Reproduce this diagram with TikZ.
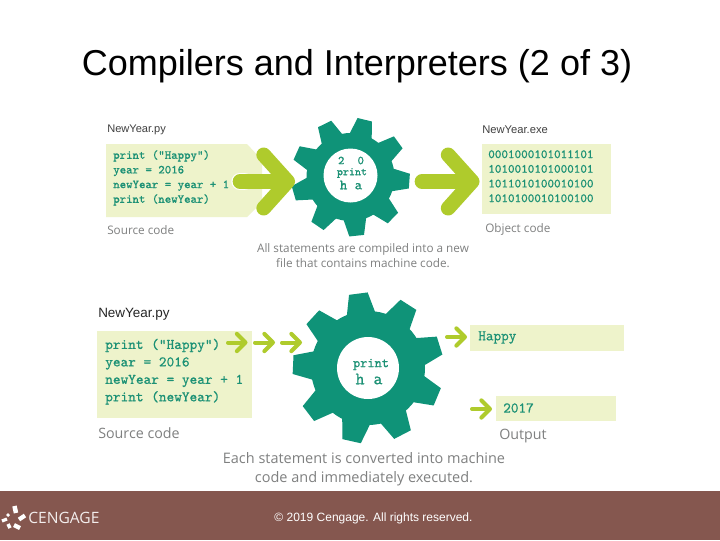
\documentclass[tikz,border=0pt]{standalone}
\usepackage{fontspec}
\setmainfont{Liberation Sans}
\newfontfamily\lblfont{Open Sans}
\newfontfamily\codefont[FakeBold=0.7]{Latin Modern Mono}
\usetikzlibrary{arrows.meta}
\definecolor{gearc}{HTML}{0F9378}
\definecolor{panelc}{HTML}{EEF3CB}
\definecolor{arrowc}{HTML}{AFCB2C}
\definecolor{footc}{HTML}{85574F}
\definecolor{lblc}{HTML}{7F8080}
\definecolor{codec}{HTML}{1C9175}
\newcommand{\gearshape}[5]{% cx,cy,outer,root,offset
  \fill[gearc] (#1,#2) circle[radius=#4];
  \foreach \k in {0,...,8}{
    \pgfmathsetmacro{\a}{#5+40*\k}
    \pgfmathsetmacro{\w}{0.175*#3}
    \pgfmathsetmacro{\v}{0.125*#3}
    \fill[gearc,shift={(#1,#2)},rotate=-\a]
      (#4-4,-\w-1.5) -- (#3,-\v) -- (#3,\v) -- (#4-4,\w+1.5) -- cycle;
  }
}
\tikzset{
  x=0.75pt,y=-0.75pt,
  panel/.style={fill=panelc,inner sep=0pt,outer sep=0pt,anchor=north west},
  codetop/.style={font=\codefont\bfseries\fontsize{9.2}{11}\selectfont,text=codec,inner sep=0pt,anchor=north west,align=left},
  codebig/.style={font=\codefont\bfseries\fontsize{10.95}{13.1}\selectfont,text=codec,inner sep=0pt,anchor=north west,align=left},
  lbl/.style={font=\lblfont\fontsize{8.8}{11.2}\selectfont,text=lblc,inner sep=0pt,align=center},
  lblbig/.style={font=\lblfont\fontsize{10.7}{14}\selectfont,text=lblc,inner sep=0pt,align=center},
  fatarrow/.style={draw=arrowc,line width=11pt,line cap=round,
    -{Straight Barb[length=18pt,width=40pt,round,line width=11pt]}},
  thinarrow/.style={draw=arrowc,line width=3pt,line cap=round,
    -{Straight Barb[length=6.5pt,width=13pt,round,line width=3pt]}},
  halo/.style={draw=white,line width=13pt,line cap=round},
  hole/.style={circle,fill=white,inner sep=0pt,outer sep=0pt},
}
\begin{document}
\begin{tikzpicture}
\useasboundingbox (0,0) rectangle (720,540);
\fill[white] (0,0) rectangle (720,540);
% title
\node[inner sep=0pt,font=\fontsize{27}{30}\selectfont] (title) at (357,66) {Compilers and Interpreters (2 of 3)};
% top row
\node[anchor=west,inner sep=0pt,text=black!75,font=\fontsize{8.3}{10}\selectfont] (name1) at (107,130) {NewYear.py};
\fill[panelc] (106,144) -- (247,144) -- (262,160) -- (262,202) -- (247,217) -- (106,217) -- cycle;
\coordinate (srcstart) at (240,181.5);
\node[codetop] (code1) at (113,150) {print ("Happy")\\year = 2016\\newYear = year + 1\\print (newYear)};
\node[anchor=west,lbl] (src1) at (107,230) {Source code};
\gearshape{350.5}{177}{59}{44}{84}
\node[hole,minimum size=40.5pt] (gear1) at (350.5,175.5) {};
\node[inner sep=0pt,text=codec,font=\codefont\bfseries\fontsize{9}{8}\selectfont] (g1a) at (351,160.5) {2\hspace{1.1em}0};
\node[inner sep=0pt,text=codec,font=\codefont\bfseries\fontsize{8.6}{6}\selectfont] (g1b) at (352,173) {print};
\node[inner sep=0pt,text=codec,font=\codefont\bfseries\fontsize{10.6}{8}\selectfont] (g1c) at (351,185) {h a};
\coordinate (gear1in) at (295,181.5);
\draw[halo] (srcstart) -- ++(4,0);
\draw[fatarrow] (srcstart) -- (gear1in);
\coordinate (gear1out) at (422,181.5);
\node[panel,minimum width=97pt,minimum height=52.5pt] (obj1) at (482,144) {};
\coordinate (obj1in) at (479.5,181.5);
\draw[fatarrow] (gear1out) -- (obj1in);
\node[anchor=west,inner sep=0pt,text=black!75,font=\fontsize{8.4}{10}\selectfont] (name2) at (482,130) {NewYear.exe};
\node[codetop,font=\codefont\bfseries\fontsize{9.4}{11}\selectfont] (code2) at (488,150) {0001000101011101\\1010010101000101\\1011010100010100\\1010100010100100};
\node[anchor=west,lbl] (objl) at (485,229) {Object code};
\node[lbl] (cap1) at (363,255.5) {All statements are compiled into a new\\file that contains machine code.};
% bottom row
\node[anchor=west,inner sep=0pt,text=black!85,font=\fontsize{10.1}{12}\selectfont] (name3) at (98,314) {NewYear.py};
\node[panel,minimum width=116.5pt,minimum height=65.5pt] (src2) at (97,331) {};
\node[codebig] (code3) at (105,338.5) {print ("Happy")\\year = 2016\\newYear = year + 1\\print (newYear)};
\node[anchor=west,lblbig] (srcl2) at (98,433) {Source code};
\coordinate (a1s) at (228,342.5); \coordinate (a1e) at (247.5,342.5);
\coordinate (a2s) at (255,342.5); \coordinate (a2e) at (275,342.5);
\coordinate (a3s) at (282,342.5); \coordinate (a3e) at (302,342.5);
\draw[thinarrow] (a1s) -- (a1e);
\draw[thinarrow] (a2s) -- (a2e);
\draw[thinarrow] (a3s) -- (a3e);
\gearshape{368}{368}{75}{57}{22.6}
\node[hole,minimum size=46.5pt] (gear2) at (368,368) {};
\node[inner sep=0pt,text=codec,font=\codefont\bfseries\fontsize{10.3}{8}\selectfont] (g2a) at (371,364.5) {print};
\node[inner sep=0pt,text=codec,font=\codefont\bfseries\fontsize{13}{8}\selectfont] (g2b) at (369,379) {h a};
\node[panel,minimum width=115.5pt,minimum height=19.5pt] (out1) at (470,324.5) {};
\node[panel,minimum width=90pt,minimum height=19pt] (out2) at (496,396) {};
\node[anchor=west,inner sep=0pt,text=codec,font=\codefont\bfseries\fontsize{11.1}{10}\selectfont] (happy) at (478,337.5) {Happy};
\node[anchor=west,inner sep=0pt,text=codec,font=\codefont\bfseries\fontsize{11.1}{10}\selectfont] (y2017) at (503,408) {2017};
\coordinate (a4s) at (447,337); \coordinate (a4e) at (467,337);
\coordinate (a5s) at (472,409); \coordinate (a5e) at (492,409);
\draw[thinarrow] (a4s) -- (a4e);
\draw[thinarrow] (a5s) -- (a5e);
\node[anchor=west,lblbig] (outl) at (499,436) {Output};
\node[lblbig,font=\lblfont\fontsize{10.85}{14}\selectfont] (cap2) at (364,469.5) {Each statement is converted into machine\\code and immediately executed.};
% footer
\fill[footc] (0,491) rectangle (720,540);
\node[inner sep=0pt,text=white,font=\fontsize{9}{10}\selectfont] (copy) at (373.5,518) {© 2019 Cengage. All rights reserved.};
\node[anchor=west,inner sep=0pt,text=white!90!footc,font=\lblfont\fontsize{11.7}{12}\selectfont] (ceng) at (28,518) {CENGAGE};
\begin{scope}[white,line cap=butt]
\draw[line width=3.4pt] (14.5,506) -- (16,513);
\draw[line width=3.2pt] (19,519.5) -- (25,515.5);
\draw[line width=3.2pt] (14,525) -- (20,528);
\draw[line width=2.6pt] (8,524) -- (10,528);
\draw[line width=2.4pt] (2,521) -- (7,519);
\draw[line width=2pt] (7,514) -- (9,516);
\end{scope}
\end{tikzpicture}
\end{document}
